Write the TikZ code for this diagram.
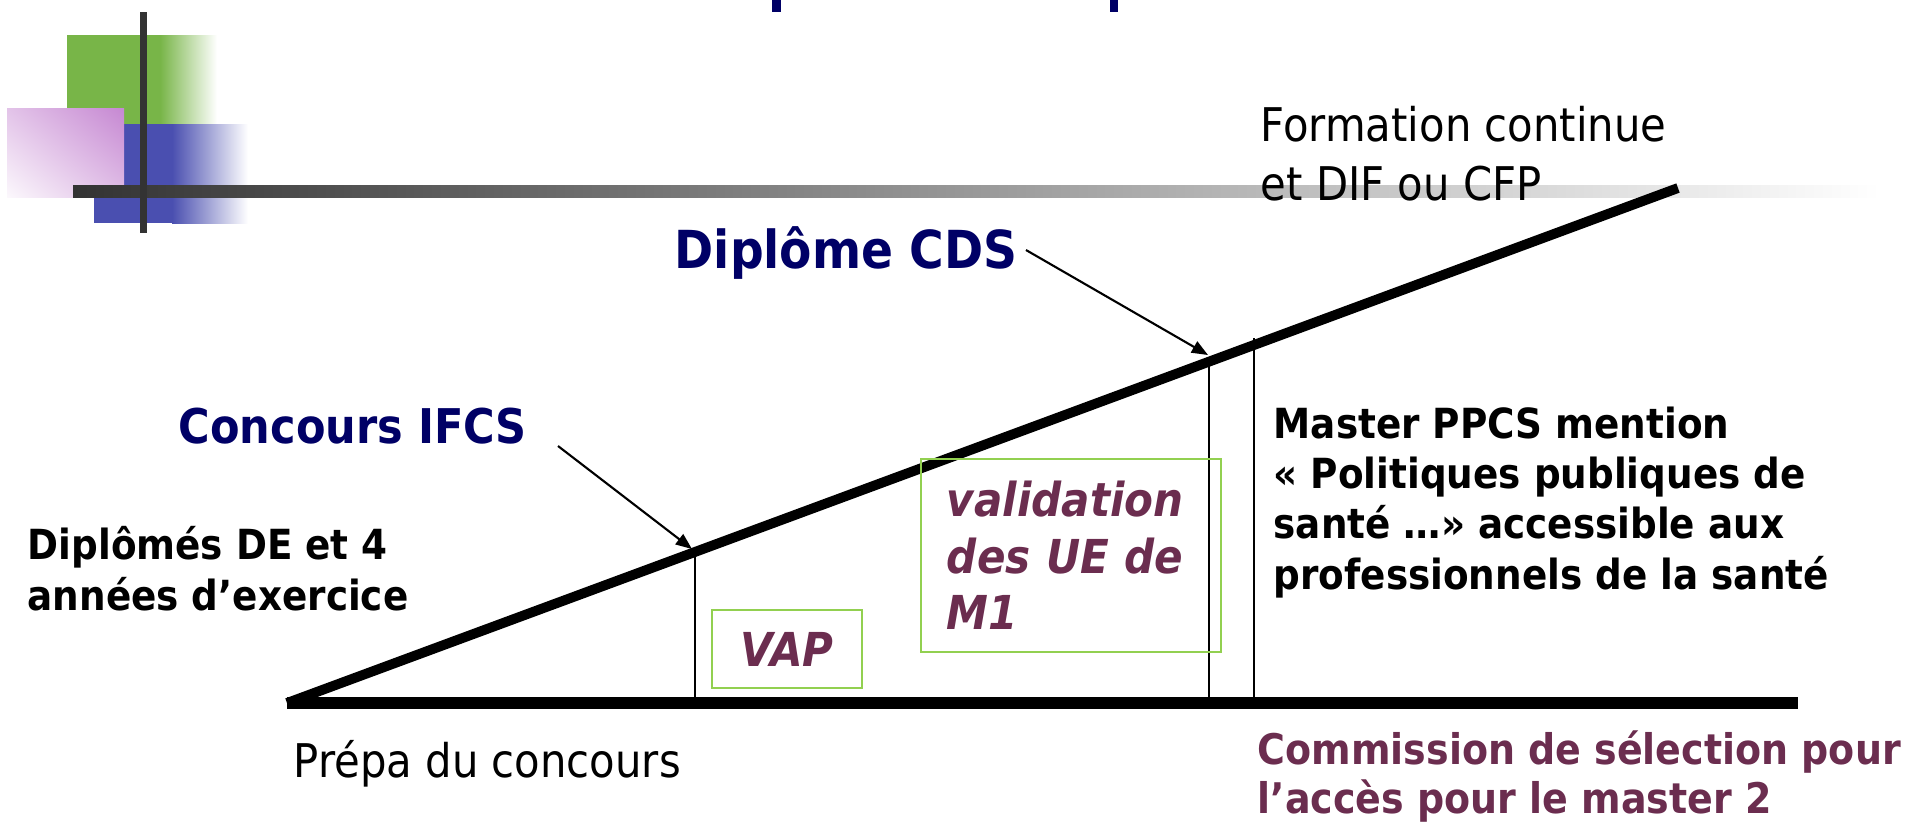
\documentclass[tikz,border=0pt]{standalone}
\usepackage{fontspec}
\setmainfont[FakeStretch=0.9]{DejaVu Sans}
\usetikzlibrary{arrows.meta,shadings}

\definecolor{titlenavy}{HTML}{000066}
\definecolor{plum}{HTML}{6B2D4F}
\definecolor{boxgreen}{HTML}{92D050}
\definecolor{logogreen}{HTML}{78B548}
\definecolor{logoblue}{HTML}{4A4FB0}
\definecolor{logopink}{HTML}{C688D2}
\definecolor{bardark}{HTML}{333333}

\begin{document}
\begin{tikzpicture}[x=0.01cm, y=-0.01cm
        , every node/.style={ inner sep=0pt, anchor=base west, align=left }
        , navytext/.style={ text=titlenavy, font=\bfseries\fontsize{13.6}{16}\selectfont }
        , blacktext/.style={ font=\bfseries\fontsize{11.8}{14.3}\selectfont }
        , plaintext/.style={ font=\fontsize{13.2}{16.5}\selectfont }
        , plumtext/.style={ text=plum, font=\bfseries\fontsize{12}{13.7}\selectfont }
        , greenbox/.style={ draw=boxgreen, line width=0.6pt, anchor=center, text=plum,
                            font=\bfseries\itshape\fontsize{13.3}{16.1}\selectfont }
        , pointer/.style={ line width=0.6pt, -{Triangle[length=4.6pt,width=3.6pt]} }
        , thinline/.style={ line width=0.6pt }
        ]

        \useasboundingbox (0,0) rectangle (1917,826);

        % template logo
        \fill[logogreen] (67,35) rectangle (160,124);
        \shade[left color=logogreen, right color=white] (160,35) rectangle (217,124);
        \fill[logoblue] (94,124) rectangle (172,223);
        \shade[left color=logoblue, right color=white] (172,124) rectangle (248,223);
        \shade[upper right=logopink, lower left=logopink!6, upper left=logopink!50,
               lower right=logopink!55] (7,108) rectangle (124,197);
        \shade[left color=bardark, middle color=black!25, right color=white]
            (73,185) rectangle (1880,197);
        \fill[bardark] (140,12) rectangle (147,233);

        % what is left of the title
        \fill[titlenavy] (772,0) rectangle (781,12);
        \fill[titlenavy] (1110,0) rectangle (1118,12);

        % the two axes
        \coordinate (origin) at (287,703);
        \coordinate (apex) at (1678,188);
        \coordinate (baseend) at (1798,703);
        \draw[line width=3.2pt] (origin) -- (baseend);
        \draw[line width=2.8pt] (origin) -- (apex);

        % steps on the slope
        \coordinate (ifcs) at (695,552);
        \coordinate (cds) at (1209,361);
        \coordinate (ppcs) at (1254,338);
        \draw[thinline] (ifcs) -- (ifcs |- origin);
        \draw[thinline] (cds) -- (cds |- origin);
        \draw[thinline] (ppcs) -- (ppcs |- origin);

        \node[navytext] (ifcslabel) at (178,443) {Concours IFCS};
        \node[navytext, font=\bfseries\fontsize{14.9}{17}\selectfont] (cdslabel) at (674,268) {Diplôme CDS};
        \coordinate (ifcsfrom) at (558,446);
        \coordinate (ifcstip) at (692,549);
        \coordinate (cdsfrom) at (1026,250);
        \coordinate (cdstip) at (1208,355);
        \draw[pointer] (ifcsfrom) -- (ifcstip);
        \draw[pointer] (cdsfrom) -- (cdstip);

        % multi-line nodes sit on the baseline of their last line
        \node[blacktext] (delabel) at (27,610) {Diplômés DE et 4\\années d’exercice};
        \node[plaintext] (prepa) at (293,777) {Prépa du concours};
        \node[plaintext] (formation) at (1260,200) {Formation continue\\et DIF ou CFP};
        \node[blacktext] (master) at (1273,589)
            {Master PPCS mention\\« Politiques publiques de\\santé …» accessible aux\\professionnels de la santé};
        \node[plumtext] (commission) at (1257,813) {Commission de sélection pour\\l’accès pour le master 2};

        \node[greenbox, minimum width=1.5cm, minimum height=0.78cm] (vap) at (787,649) {VAP};
        \node[greenbox, text width=2.48cm, inner xsep=0.26cm, minimum height=1.93cm]
            (validation) at (1071,555.5) {validation\\des UE de\\M1};

    \end{tikzpicture}
\end{document}
